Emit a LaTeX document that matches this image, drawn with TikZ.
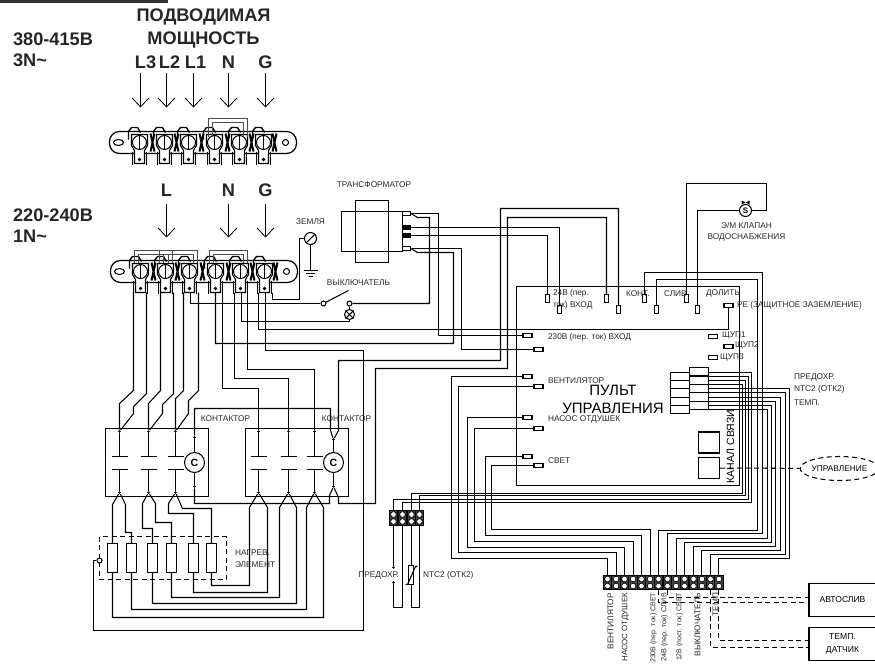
\documentclass[tikz,border=0pt]{standalone}
\usepackage{fontspec}
\setmainfont{Liberation Sans}
\usetikzlibrary{arrows.meta,shapes.geometric}

\tikzset{
  lbl/.style={font=\fontsize{8.3}{9}\selectfont, inner sep=0pt, text=black!85},
  big/.style={font=\bfseries\fontsize{18.2}{19}\selectfont, inner sep=0pt, text=black!85},
  tabh/.style={draw, fill=white, rectangle, minimum width=9pt, minimum height=4.4pt, inner sep=0pt},
  tabv/.style={draw, fill=white, rectangle, minimum width=4.4pt, minimum height=8.4pt, inner sep=0pt},
  dot/.style={circle, fill, inner sep=0pt, minimum size=2.6pt},
  ring/.style={circle, draw, fill=white, inner sep=0pt, minimum size=5pt},
  coil/.style={circle, draw, fill=white, inner sep=0pt, minimum size=20pt, font=\bfseries\fontsize{10.5}{10}\selectfont},
  cell/.style={draw, fill=black!75, rectangle, minimum width=8.6pt, minimum height=14.5pt, inner sep=0pt},
  resist/.style={draw, fill=white, rectangle, minimum width=10pt, minimum height=29pt, inner sep=0pt},
  extbox/.style={draw, rectangle, minimum width=67pt, minimum height=33pt, inner sep=0pt, align=center, font=\fontsize{8.6}{12.5}\selectfont},
  dashwire/.style={dash pattern=on 5pt off 3.5pt},
  intip/.style={-{Straight Barb[length=9pt,width=17pt,line width=0.8pt]}, line width=0.8pt},
  jumper/.style={black!70, line width=1pt},
  screwlug/.pic={
    % hook and lug of one screw
    \draw[line width=1.4pt] (-11,-3) -- (-11,-11) -- (-8,-15) -- (-2,-15) -- (1,-10);
    \draw[fill=white] (-8,-8) -- (-8,3) -- (-5,8) -- (-5,21) -- (5,21) -- (5,8) -- (8,3) -- (8,-8) -- cycle;
    \draw[line width=1.8pt] (-7,9) -- (-7,22) (7,9) -- (7,22);
    \draw[fill=white] (0,0) circle (7pt);
    \draw[line width=1.8pt] (0,-7) -- (0,7);
    \draw (0,17) circle (1.2pt);
  },
  tblock/.pic={
    \draw[fill=white, rounded corners=10pt, line width=1.2pt] (109,-11) rectangle (296,11);
    \draw (118,0) ellipse (5pt and 3pt);
    \draw (285,0) circle (3pt);
    \foreach \s in {139,164,188,214,239,263}
      \pic at (\s,0) {screwlug};
    \foreach \s in {152,176,201,227,251,274}
      \draw[line width=2pt] (\s-2,-9) -- (\s+2,9) (\s+2,-9) -- (\s-2,9);
  }
}

\begin{document}
\begin{tikzpicture}[x=1pt,y=-1pt,xshift=0.5pt,yshift=-0.5pt,line width=1.05pt,>=stealth]
\useasboundingbox (-0.5,-0.5) rectangle (874.5,666.5);
\fill[black!80] (-0.5,-0.5) rectangle (167,2.5);

% supply labels
\node[big,anchor=west] (v380) at (12,39) {380-415В};
\node[big,anchor=west] (n380) at (12,60) {3N\char"007E};
\node[big,anchor=west] (v220) at (12,215) {220-240В};
\node[big,anchor=west] (n220) at (12,236) {1N\char"007E};
\node[big] (supa) at (203,16) {ПОДВОДИМАЯ};
\node[big] (supb) at (203,39) {МОЩНОСТЬ};
\foreach \n/\t/\lx/\x in {u3/L3/145/140,u2/L2/169/166,u1/L1/195/193,un/N/228/228,ug/G/265/265}{
  \node[big] (lab\n) at (\lx,62) {\t};
  \coordinate (in\n) at (\x,72);
  \coordinate (out\n) at (\x,107);
  \draw[intip] (in\n) -- (out\n);
}
\foreach \n/\t/\x in {dl/L/166,dn/N/228,dg/G/265}{
  \node[big] (lab\n) at (\x,190) {\t};
  \coordinate (in\n) at (\x,203);
  \coordinate (out\n) at (\x,237);
  \draw[intip] (in\n) -- (out\n);
}

% terminal blocks
\pic at (0,142) {tblock};
\draw[jumper] (208,136) |- (247,118) -- (247,136);
\draw[jumper] (212,136) |- (243,122) -- (243,136);
\pic at (1,271) {tblock};
\foreach \a/\b in {134/172,159/197,209/247}{
  \draw[jumper] (\a,262) |- (\b,250) -- (\b,262);
  \draw[jumper] (\a+4,262) |- (\b-4,254) -- (\b-4,262);
}
\foreach \n/\x in {a-l/133,a-r/146,b-l/160,b-r/173,c-l/183,c-m/190,c-r/198,d-m/215,d-r/222,e-l/234,e-m/241,e-r/247,f-l/258,f-m/265,f-r/272}
  \coordinate (\n) at (\x,292);

% contactors
\draw (105,428) rectangle (208,496);
\draw (245,428) rectangle (348,496);
\foreach \n/\x in {a/119,b/148,c/175,d/258,e/288,f/314}{
  \node[dot] (top\n) at (\x,431) {};
  \node[dot] (bot\n) at (\x,492) {};
  \coordinate (pla\n) at (\x,456);
  \coordinate (plb\n) at (\x,469);
  \draw (top\n) -- (pla\n);
  \draw (plb\n) -- (bot\n);
  \draw (\x-8,456) -- (\x+8,456);
  \draw (\x-8,469) -- (\x+8,469);
}
\node[coil] (coila) at (194,462) {C};
\node[coil] (coilb) at (333,462) {C};
\node[dot] (cata) at (194,437) {};
\node[dot] (cbta) at (194,486) {};
\node[dot] (catb) at (333,439) {};
\node[dot] (cbtb) at (333,486) {};
\draw (cata) -- (coila);
\draw (coila) -- (cbta);
\draw (catb) -- (coilb);
\draw (coilb) -- (cbtb);

% feed to first contactor
\draw (a-l) -- (133,390) -- (119,403) -- (topa);
\draw (a-r) -- (146,393) -- (133,406) -- (133,413) -- (topa);
\draw (b-l) -- (160,390) -- (148,403) -- (topb);
\draw (b-r) -- (173,393) -- (162,404) -- (162,413) -- (topb);
\draw (c-l) -- (183,390) -- (175,398) -- (topc);
\draw (c-r) -- (198,390) -- (188,400) -- (188,413) -- (topc);
% feed to second contactor
\draw (d-r) |- (258,388) -- (topd);
\draw (e-l) |- (288,378) -- (tope);
\draw (e-r) |- (314,369) -- (topf);
\draw (cata) -- (194,408) -- (330,408) -- (330,430) -- (catb);

% heater
\draw[dashwire] (99,536) rectangle (226,579);
\foreach \n/\x in {1/112,2/131,3/152,4/171,5/193,6/211}
  \node[resist] (res\n) at (\x,557.5) {};
\draw (bota) -- (112,504) -- (res1);
\draw (bota) -- (125,504) -- (125,532) -- (131,532) -- (res2);
\draw (botb) -- (142,503) -- (142,528) -- (152,528) -- (res3);
\draw (botb) -- (155,503) -- (155,522) -- (171,522) -- (res4);
\draw (botc) -- (168,503) -- (168,513) -- (193,513) -- (res5);
\draw (botc) -- (182,508) -- (211,508) -- (res6);
\draw (res6) |- (249,585) -- (249,507) -- (botd);
\draw (res5) |- (267,592) -- (267,507) -- (botd);
\draw (res4) |- (279,597) -- (279,507) -- (bote);
\draw (res3) |- (296,603) -- (296,507) -- (bote);
\draw (res2) |- (306,609) -- (306,507) -- (botf);
\draw (res1) |- (323,617) -- (323,507) -- (botf);
\foreach \n/\x in {1/112,2/131,3/152,4/171,5/193,6/211}
  \node[resist] at (\x,557.5) {};
\node[ring] (hring) at (99,560) {};

% earth, switch and lamp
\node[circle,draw,fill=white,inner sep=0pt,minimum size=12pt] (gnd) at (310,238) {};
\draw (gnd.225) -- (gnd.45);
\coordinate (gndb) at (310,270);
\draw (gnd) -- (gndb);
\draw (303,270) -- (317,270) (305.5,273) -- (314.5,273) (308,276) -- (312,276);
\node[ring] (swa) at (323,303) {};
\node[ring] (swb) at (349,303) {};
\coordinate (swc) at (348,290);
\draw (swa) -- (swc);
\node[circle,draw,fill=white,inner sep=0pt,minimum size=10pt] (lamp) at (349,314) {};
\draw (lamp.45) -- (lamp.225) (lamp.135) -- (lamp.315);
\draw (swb) -- (lamp);
\draw (c-m) |- (swa);
\draw (e-m) |- (349,321) -- (lamp);
\draw (f-r) |- (299,299) -- (299,238) -- (gnd);

% transformer
\draw (341,211) rectangle (402,251);
\draw (355,200) rectangle (388,262);
\node[tabh,minimum width=8pt] (xfa) at (406,213) {};
\node[tabh,minimum width=8pt,fill=black] (xfc) at (406,227) {};
\node[tabh,minimum width=8pt,fill=black] (xfd) at (406,235) {};
\node[tabh,minimum width=8pt] (xfb) at (406,248) {};

% control panel
\draw (516,286) rectangle (739,485);
\foreach \n/\x/\y in {ina/547/298,inb/559/309,cta/606/298,ctb/618/309,kna/644/298,knb/656/309,dra/686/298,drb/697/309}
  \node[tabv] (\n) at (\x,\y) {};
\foreach \n/\x/\y in {pea/728/305,pra/712.5/336,prb/728/346,prc/712.5/357,bla/527/335,blb/538/349,fna/527/376,fnb/538/386,pma/527/417,pmb/538/428,lta/527/456,ltb/538/465}
  \node[tabh] (\n) at (\x,\y) {};

\draw (xfa.east) -- (417,217) -- (429,217) -- (429,303) -- (swb);
\draw (xfa.east) -- (438,213) -- (438,335) -- (bla);
\draw (xfb.east) -- (461,248) -- (461,349) -- (blb);
\draw (xfb.east) -- (417,252) -- (453,252) -- (453,343) -| (d-m);
\draw (xfc) -| (inb);
\draw (xfd) -| (ina);
\draw (ctb) |- (500,208) -- (500,360) -- (338,360) -- (338,430) -- (catb);
\draw (cta) |- (507,217) -- (507,368) -- (375,368) -- (375,503) -- (338,503) -- (338,497) -- (cbtb);
\draw (cbta) -- (194,503) -- (329,503) -- (329,495) -- (cbtb);
\draw (f-l) |- (728,329) -- (pea);
\draw (f-m) |- (363,350) -- (363,630) -- (93,630) -- (93,560) -- (hring);

% solenoid valve
\node[circle,draw,fill=white,inner sep=0pt,minimum size=12pt,font=\bfseries\fontsize{8}{8}\selectfont] (valve) at (745,210) {S};
\fill (741,200) -- (745,202) -- (749,200) -- (749,204) -- (745,202) -- (741,204) -- cycle;
\draw (745,204) -- (valve);
\draw (valve) -| (drb);
\draw (valve) -- (766,210) -- (766,183) -| (dra);

% connector stacks
\foreach \k in {0,...,4}{
  \draw[fill=white] (670,{372+8.2*\k}) rectangle (689,{380.2+8.2*\k});
  \draw[fill=white] (689,{367+8.4*\k}) rectangle (708,{375.4+8.4*\k});
}

% bottom terminal strips
\foreach \i/\x in {1/607,2/615.6,3/624,4/632.6,5/641,6/649.6,7/658,8/667,9/675.6,10/684,11/693,12/701.4,13/710,14/718.4}{
  \node[cell] (t\i) at (\x,582) {};
  \draw[fill=white,line width=0.6pt] (\x,578.5) circle (2.8pt) (\x,585.5) circle (2.8pt);
}
\foreach \i/\x in {1/393,2/402,3/411,4/419}{
  \node[cell] (p\i) at (\x,517.5) {};
  \draw[fill=white,line width=0.6pt] (\x,514) circle (2.8pt) (\x,521) circle (2.8pt);
}

% panel outputs to the strip
\foreach \n/\w/\vx/\vy in {fna/t1/451/558,fnb/t2/458/552,pma/t3/467/547,pmb/t4/474/541,lta/t5/485/535,ltb/t6/491/529}
  \draw (\n) -| (\vx,\vy) -| (\w);
% connector wires
\foreach \r/\x/\vx/\by/\w in {388/708/789/558/t14,392/689/785/554/t13,397/708/780/550/t12,401/689/775/546/t11,405/708/771/542/t10,409/689/767/538/t9}
  \draw (\x,\r) -- (\vx,\r) -- (\vx,\by) -| (\w);
\foreach \r/\x/\vx/\by/\w in {372/708/751/502/p2,376/689/748/499/p1,380/708/745/495/p4,384/689/742/493/p3}
  \draw (\x,\r) -- (\vx,\r) -- (\vx,\by) -| (\w);
\draw (kna) |- (762,272) -- (762,533) -| (t8);
\draw (knb) |- (757,279) -- (757,530) -| (t7);

% fuse and NTC below the small strip
\node[dot] (fsa) at (393,567) {};
\node[dot] (fsb) at (393,582) {};
\draw (p1) -- (fsa);
\draw (fsb) -- (393,607) -| (p2);
\draw (p3) -- (411,607) -| (p4);
\node[draw,fill=white,rectangle,minimum width=5pt,minimum height=19pt,inner sep=0pt] (ntc) at (410.5,574.5) {};
\draw (405,584) -- (407,584) -- (415,566) -- (417,566);

% remote boxes
\node[extbox] (drainbox) at (842,599.5) {АВТОСЛИВ};
\node[extbox] (tempbox) at (842,643.5) {ТЕМП.\\ДАТЧИК};
\coordinate (dba) at (808,597);
\coordinate (dbb) at (808,602);
\coordinate (tba) at (808,640);
\coordinate (tbb) at (808,647);
\draw[dashwire] (t8.south) |- (dba);
\draw[dashwire] (t7.south) |- (dbb);
\draw[dashwire] (t14.south) |- (tba);
\draw[dashwire] (t13.south) |- (tbb);

% link boxes
\node[draw,rectangle,minimum size=21pt,inner sep=0pt] (sqa) at (708.5,442) {};
\node[draw,rectangle,minimum size=21pt,inner sep=0pt] (sqb) at (708.5,467.5) {};
\node[ellipse,draw,dashwire,minimum width=68pt,minimum height=24pt,inner sep=0pt,lbl,text=black] (ctrl) at (839,468) {УПРАВЛЕНИЕ};
\draw[dashwire] (sqb) -- (ctrl);

% texts
\node[lbl] (tzem) at (310,221) {ЗЕМЛЯ};
\node[lbl] (tswi) at (358,282) {ВЫКЛЮЧАТЕЛЬ};
\node[lbl] (txfm) at (373.5,184) {ТРАНСФОРМАТОР};
\node[lbl,anchor=west] (tina) at (552,293) {24В (пер.};
\node[lbl,anchor=west] (tinb) at (552,305) {ток) ВХОД};
\node[lbl,anchor=west] (tbl) at (547,337) {230В (пер. ток) ВХОД};
\node[lbl,anchor=west] (tkon) at (625,293) {КОНТ.};
\node[lbl,anchor=west] (tslv) at (663,293) {СЛИВ};
\node[lbl,anchor=west] (tdol) at (705,293) {ДОЛИТЬ};
\node[lbl,anchor=west] (tpe) at (736,305) {PE (ЗАЩИТНОЕ ЗАЗЕМЛЕНИЕ)};
\node[lbl] (tvla) at (746,225) {Э/М КЛАПАН};
\node[lbl] (tvlb) at (746,237) {ВОДОСНАБЖЕНИЯ};
\node[lbl,anchor=west] (tsha) at (721,335) {ЩУП1};
\node[lbl,anchor=west] (tshb) at (734,345) {ЩУП2};
\node[lbl,anchor=west] (tshc) at (719,357) {ЩУП3};
\node[lbl,anchor=west] (tfan) at (547,380) {ВЕНТИЛЯТОР};
\node[lbl,anchor=west] (tpmp) at (547,419) {НАСОС ОТДУШЕК};
\node[lbl,anchor=west] (tlgt) at (547,460) {СВЕТ};
\node[inner sep=0pt,font=\fontsize{15}{15}\selectfont] (tpna) at (612.5,390) {ПУЛЬТ};
\node[inner sep=0pt,font=\fontsize{15}{15}\selectfont] (tpnb) at (612.5,408) {УПРАВЛЕНИЯ};
\node[inner sep=0pt,rotate=90,font=\fontsize{10.5}{11}\selectfont] (tlnk) at (730,446) {КАНАЛ СВЯЗИ};
\node[lbl,anchor=west] (tfu) at (793,377) {ПРЕДОХР.};
\node[lbl,anchor=west] (tnt) at (793,389) {NTC2 (ОТК2)};
\node[lbl,anchor=west] (ttm) at (793,402) {ТЕМП.};
\node[lbl] (tcta) at (225,418) {КОНТАКТОР};
\node[lbl] (tctb) at (346,418) {КОНТАКТОР};
\node[lbl,anchor=west] (thta) at (234,552) {НАГРЕВ.};
\node[lbl,anchor=west] (thtb) at (234,564) {ЭЛЕМЕНТ};
\node[lbl,anchor=east] (tfub) at (399,575) {ПРЕДОХР.};
\node[lbl,anchor=west] (tntb) at (422,575) {NTC2 (ОТК2)};
\foreach \n/\x/\s/\t in {a/610/8.3/ВЕНТИЛЯТОР,b/625/7.9/НАСОС ОТДУШЕК,c/653/7/230В (пер. ток) СВЕТ,d/664/7.2/24В (пер. ток) СЛИВ,e/679/7/12В (пост. ток) СВЕТ,f/697/8.3/ВЫКЛЮЧАТЕЛЬ,g/715/8.3/ТЕМП}
  \node[lbl,rotate=90,anchor=east,font=\fontsize{\s}{9}\selectfont] (str\n) at (\x,592) {\t};
\end{tikzpicture}
\end{document}
